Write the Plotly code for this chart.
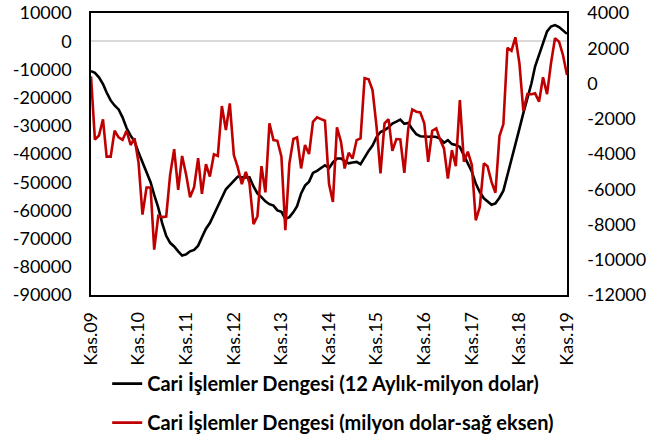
import pandas as pd
import plotly.graph_objects as go

# Monthly dates Nov 2009 .. Nov 2019
months = pd.date_range("2009-11-01", "2019-11-01", freq="MS")

# 12-month rolling current account balance (million USD, left axis)
ca_12m = [
    -10600, -11200, -12800, -15200, -18200, -21000, -22800, -24200, -27000, -30800,
    -33500, -35500, -39500, -43000, -46500, -50000, -54500, -59000, -64500, -69000,
    -71500, -72800, -74500, -76000, -75600, -74500, -74000, -72500, -69500, -66500,
    -64500, -61500, -58500, -55500, -52500, -51000, -49300, -48000, -48300, -48200,
    -48300, -51500, -54000, -55300, -56800, -57800, -58300, -60000, -60500, -63000,
    -62400, -60600, -58500, -54000, -51200, -49800, -46700, -46000, -45000, -44000,
    -45000, -43000, -41600, -41600, -42500, -43300, -43000, -42800, -43600, -41000,
    -38900, -37000, -34000, -32200, -31600, -30500, -29200, -28500, -27800, -29300,
    -29000, -31200, -33000, -33700, -33900, -33900, -33800, -34000, -34500, -36000,
    -35100, -36500, -36800, -37500, -40500, -43500, -46300, -50500, -53500, -55700,
    -56800, -58000, -57500, -55500, -53000, -47500, -42800, -37500, -31000, -25500,
    -20500, -15000, -9000, -4500, -200, 3500, 5200, 5700, 5000, 3700,
    2600,
]

# Monthly current account balance (million USD, right axis)
ca_monthly = [
    400, -3180, -2950, -2030, -4150, -4150, -2680, -3060, -3200, -2680,
    -3490, -3110, -4500, -7440, -5900, -5900, -9430, -7510, -7580, -7550,
    -5180, -3730, -6030, -4110, -5180, -6450, -5880, -4240, -6260, -4580,
    -5280, -4020, -4110, -1280, -2640, -1130, -4060, -4760, -5710, -5010,
    -5670, -7980, -7530, -4690, -6180, -2260, -3210, -3250, -4150, -8320,
    -4530, -3150, -3060, -4820, -3490, -4000, -2170, -1920, -2020, -2110,
    -5690, -6720, -2490, -3310, -4820, -3930, -4250, -3210, -3110, 300,
    240, -370, -2450, -5100, -2260, -2030, -3820, -3150, -3170, -5070,
    -2550, -1470, -1600, -1640, -2260, -4440, -2680, -2550, -3170, -3680,
    -5390, -3780, -4690, -940, -4440, -3870, -4630, -7760, -7000, -4530,
    -4690, -5580, -6200, -2980, -2300, 2030, 1860, 2620, 1140, -1550,
    -600, -610, -560, -1030, 350, -600, 1140, 2570, 2370, 1620,
    480,
]

x_tick_labels = ["Kas.09", "Kas.10", "Kas.11", "Kas.12", "Kas.13", "Kas.14",
                 "Kas.15", "Kas.16", "Kas.17", "Kas.18", "Kas.19"]
left_ticks = [10000, 0, -10000, -20000, -30000, -40000, -50000, -60000, -70000, -80000, -90000]
right_ticks = [4000, 2000, 0, -2000, -4000, -6000, -8000, -10000, -12000]

name_12m = "Cari İşlemler Dengesi (12 Aylık-milyon dolar)"
name_monthly = "Cari İşlemler Dengesi (milyon dolar-sağ eksen)"

FONT = "Lato"

fig = go.Figure()
fig.add_trace(go.Scatter(
    x=months, y=ca_12m, mode="lines", name=name_12m,
    line=dict(color="#000000", width=2.6), legendgroup="a",
))
fig.add_trace(go.Scatter(
    x=months, y=ca_monthly, mode="lines", name=name_monthly, yaxis="y2",
    line=dict(color="#C00000", width=2.6), legendgroup="b",
))

tick_dates = [months[i] for i in range(0, len(months), 12)]

fig.update_layout(
    width=647, height=438,
    margin=dict(l=91, r=80, t=13, b=143, autoexpand=False),
    paper_bgcolor="white", plot_bgcolor="white",
    font=dict(family=FONT, size=18, color="#000000"),
    showlegend=True,
    legend=dict(
        x=0.034, y=-0.245, xanchor="left", yanchor="top",
        orientation="v", traceorder="grouped", tracegroupgap=10,
        font=dict(family=FONT, size=20, color="#000000", weight="bold"),
        bgcolor="rgba(0,0,0,0)",
    ),
    xaxis=dict(
        range=[months[0], months[-1]],
        tickvals=tick_dates, ticktext=x_tick_labels,
        tickangle=-90, showgrid=False, zeroline=False,
        showline=True, linecolor="#000000", linewidth=1.5, mirror=True,
        ticks="", ticklabelstandoff=8, automargin=False,
        tickfont=dict(family=FONT, size=18),
    ),
    yaxis=dict(
        range=[-90000, 10000],
        tickvals=left_ticks, ticktext=[str(v) for v in left_ticks],
        showgrid=False, zeroline=True, zerolinecolor="#D9D9D9", zerolinewidth=2,
        showline=True, linecolor="#000000", linewidth=1.5, mirror=True,
        ticks="", ticklabelstandoff=14, automargin=False,
        tickfont=dict(family=FONT, size=18),
    ),
    yaxis2=dict(
        range=[-12000, 4000], overlaying="y", side="right",
        tickvals=right_ticks, ticktext=[str(v) for v in right_ticks],
        showgrid=False, zeroline=False,
        showline=True, linecolor="#000000", linewidth=1.5,
        ticks="", ticklabelstandoff=15, automargin=False,
        tickfont=dict(family=FONT, size=18),
    ),
)

# remove the default page margin so the figure sits at the window's corner
fig.write_html(
    "out.html",
    config={"displayModeBar": False},
    post_script="document.body.style.margin='0';",
)
